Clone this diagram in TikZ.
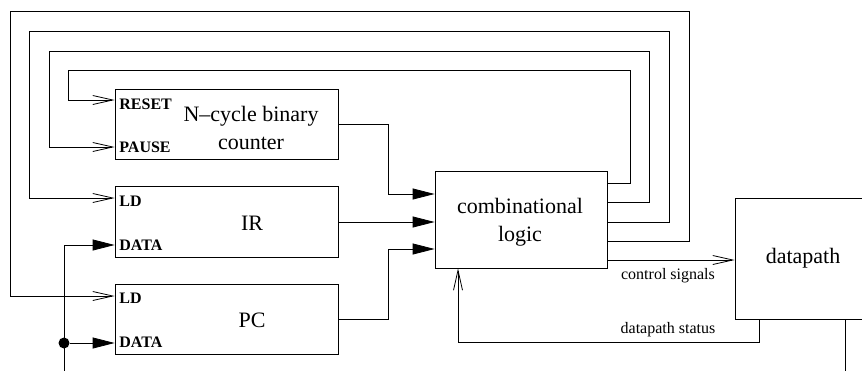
\documentclass[tikz,border=0pt]{standalone}
\usepackage{fontspec}
\setmainfont{Liberation Serif}
\usetikzlibrary{arrows.meta}
\begin{document}
\begin{tikzpicture}[x=1pt,y=-1pt,line width=0.8pt,
  box/.style={draw,rectangle,inner sep=0pt},
  big/.style={font=\fontsize{22}{28}\selectfont,align=center,inner sep=0pt},
  pin/.style={font=\fontsize{16}{18}\selectfont\bfseries,anchor=west,inner sep=0pt},
  small/.style={font=\fontsize{16}{18}\selectfont,inner sep=0pt},
  oarr/.style={-{Straight Barb[length=20pt,width=9pt]}},
  farr/.style={-{Triangle[length=22pt,width=11pt]}}]
\useasboundingbox (0,0) rectangle (862,370);
% boxes
\node[box,minimum width=223pt,minimum height=70pt] (counter) at (226.5,124) {};
\node[box,minimum width=223pt,minimum height=71pt] (ir) at (226.5,221.5) {};
\node[box,minimum width=223pt,minimum height=70pt] (pc) at (226.5,319) {};
\node[box,minimum width=172pt,minimum height=97pt] (comb) at (521,219.5) {};
\node[box,minimum width=136pt,minimum height=121pt] (dp) at (803,258.5) {};
% texts
\node[big] (tcounter) at (251,128) {N--cycle binary\\counter};
\node[big] (tir) at (252,223) {IR};
\node[big] (tpc) at (252,320) {PC};
\node[big] (tcomb) at (520,222) {combinational\\logic};
\node[big] (tdp) at (803,258) {datapath};
\node[pin] (lreset) at (119,104.5) {RESET};
\node[pin] (lpause) at (119,147.5) {PAUSE};
\node[pin] (lirld) at (119,201) {LD};
\node[pin] (lirdata) at (119,245.5) {DATA};
\node[pin] (lpcld) at (119,298.5) {LD};
\node[pin] (lpcdata) at (119,342) {DATA};
\node[small] (lctrl) at (668,276) {control signals};
\node[small] (lstat) at (668,330) {datapath status};
% feedback loops
\draw[oarr] (comb.east |- 0,183) -- (630,183) -- (630,70) -- (68,70) -- (68,100) -- (counter.west |- 0,100);
\draw[oarr] (comb.east |- 0,202) -- (649,202) -- (649,51) -- (49,51) -- (49,147) -- (counter.west |- 0,147);
\draw[oarr] (comb.east |- 0,222) -- (669,222) -- (669,31) -- (29,31) -- (29,198) -- (ir.west |- 0,198);
\draw[oarr] (comb.east |- 0,241) -- (689,241) -- (689,11) -- (10,11) -- (10,296) -- (pc.west |- 0,296);
% inputs to comb
\draw[farr] (counter.east |- 0,124) -- (388,124) -- (388,194) -- (comb.west |- 0,194);
\draw[farr] (ir.east |- 0,222) -- (comb.west |- 0,222);
\draw[farr] (pc.east |- 0,319) -- (388,319) -- (388,249) -- (comb.west |- 0,249);
% control / status
\draw[oarr] (comb.east |- 0,260) -- (dp.west |- 0,260);
\draw[oarr] (dp.south -| 759,0) -- (759,342) -- (458,342) -- (comb.south -| 458,0);
\draw (dp.south -| 845,0) -- (845,372);
% data bus
\coordinate (busend) at (64,372);
\node[circle,fill,inner sep=0pt,minimum size=11pt] (dot) at (64,343) {};
\draw[farr] (busend) -- (64,245) -- (ir.west |- 0,245);
\draw[farr] (dot) -- (pc.west |- 0,343);
\end{tikzpicture}
\end{document}
